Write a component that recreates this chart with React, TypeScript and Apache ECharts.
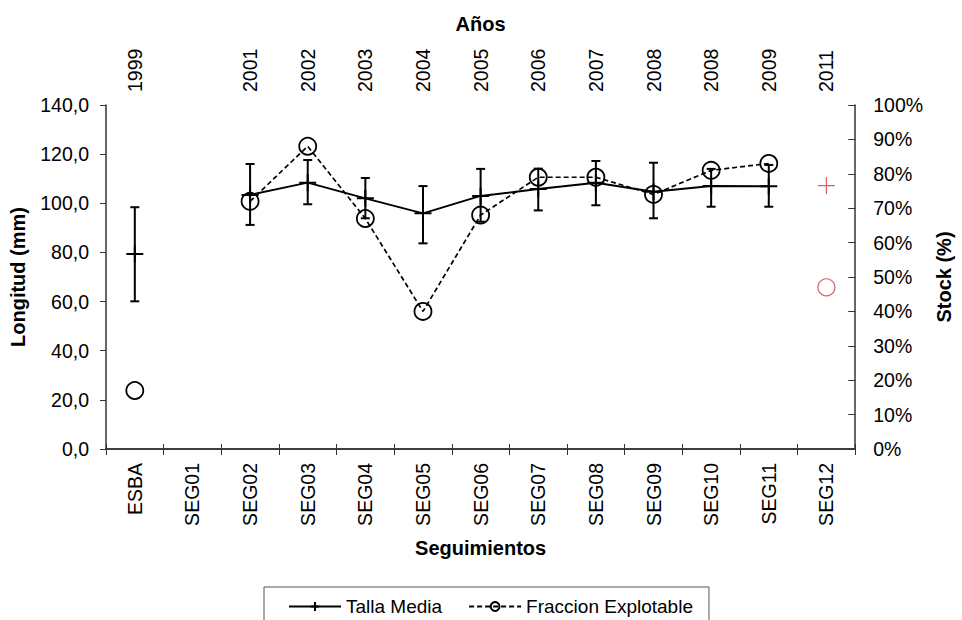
import React, { useEffect, useRef } from "react";
import * as echarts from "echarts";

const categories = ["ESBA", "SEG01", "SEG02", "SEG03", "SEG04", "SEG05", "SEG06", "SEG07", "SEG08", "SEG09", "SEG10", "SEG11", "SEG12"];
const years = ["1999", "", "2001", "2002", "2003", "2004", "2005", "2006", "2007", "2008", "2008", "2009", "2011"];
const tallaMedia = [79.4, null, 103.4, 108.4, 102.0, 95.9, 103.0, 105.8, 108.4, 104.7, 107.0, 106.9, null];
const tallaLow = [60.1, null, 91.2, 99.6, 93.9, 83.7, 92.5, 97.1, 99.2, 93.9, 98.6, 98.6, null];
const tallaHigh = [98.4, null, 116.0, 117.6, 110.3, 107.0, 114.0, 114.1, 117.2, 116.5, 114.0, 115.6, null];
const fraccion = [17, null, 72, 88, 67, 40, 68, 79, 79, 74, 81, 83, null];
const seg12Talla = [null, null, null, null, null, null, null, null, null, null, null, null, 107.2];
const seg12Fraccion = [null, null, null, null, null, null, null, null, null, null, null, null, 47];

const FONT = "'Liberation Sans', Arial, sans-serif";
const PLUS = "path://M8,0 L8,16 M0,8 L16,8";
const RED = "#d23a3a";
const AXIS = "#333";

export default function App() {
  const ref = useRef<HTMLDivElement>(null);
  useEffect(() => {
    if (!ref.current) return;
    const chart = echarts.init(ref.current, null, { renderer: "svg" });
    const errData: any[] = [];
    categories.forEach((_, i) => {
      if (tallaLow[i] != null && tallaHigh[i] != null) errData.push([i, tallaLow[i], tallaHigh[i]]);
    });
    const labelStyle = { fontFamily: FONT, fontSize: 19.5, color: "#000" };
    const nameStyle = { fontFamily: FONT, fontSize: 20, fontWeight: "bold" as const, color: "#000" };
    chart.setOption({
      animation: false,
      textStyle: { fontFamily: FONT },
      grid: { left: 106, right: 95, top: 105, bottom: 171 },
      legend: {
        data: ["Talla Media", "Fraccion Explotable"],
        left: 264,
        top: 587,
        itemWidth: 52,
        itemHeight: 11,
        itemGap: 26,
        padding: [10, 16, 20, 24],
        borderColor: "#555",
        borderWidth: 1,
        textStyle: { fontFamily: FONT, fontSize: 19, color: "#000" },
      },
      xAxis: [
        {
          type: "category",
          data: categories,
          position: "bottom",
          boundaryGap: true,
          axisLine: { lineStyle: { color: AXIS, width: 1.5 } },
          axisTick: { show: true, length: 6, lineStyle: { color: AXIS } },
          axisLabel: { ...labelStyle, rotate: 90, interval: 0, margin: 14 },
          name: "Seguimientos",
          nameLocation: "middle",
          nameGap: 89,
          nameTextStyle: nameStyle,
          splitLine: { show: false },
        },
        {
          type: "category",
          data: years,
          position: "top",
          boundaryGap: true,
          axisLine: { lineStyle: { color: AXIS, width: 1.5 } },
          axisTick: { show: true, length: 5, lineStyle: { color: AXIS } },
          axisLabel: { ...labelStyle, rotate: 90, interval: 0, margin: 13 },
          name: "Años",
          nameLocation: "middle",
          nameGap: 71,
          nameTextStyle: nameStyle,
          splitLine: { show: false },
        },
      ],
      yAxis: [
        {
          type: "value",
          min: 0,
          max: 140,
          interval: 20,
          position: "left",
          axisLine: { show: true, lineStyle: { color: AXIS, width: 1.5 } },
          axisTick: { show: true, length: 6, lineStyle: { color: AXIS } },
          axisLabel: { ...labelStyle, margin: 17, formatter: (v: number) => v.toFixed(1).replace(".", ",") },
          splitLine: { show: false },
          name: "Longitud (mm)",
          nameLocation: "middle",
          nameGap: 78,
          nameTextStyle: nameStyle,
        },
        {
          type: "value",
          min: 0,
          max: 100,
          interval: 10,
          position: "right",
          axisLine: { show: true, lineStyle: { color: AXIS, width: 1.5 } },
          axisTick: { show: true, inside: true, length: 7, lineStyle: { color: AXIS } },
          axisLabel: { ...labelStyle, margin: 18, formatter: "{value}%" },
          splitLine: { show: false },
          name: "Stock (%)",
          nameLocation: "middle",
          nameRotate: 90,
          nameGap: 76,
          nameTextStyle: nameStyle,
        },
      ],
      series: [
        {
          name: "Talla Media error",
          type: "custom",
          xAxisIndex: 0,
          yAxisIndex: 0,
          data: errData,
          encode: { x: 0, y: [1, 2] },
          z: 2,
          renderItem: (params: any, api: any) => {
            const i = api.value(0);
            const lo = api.coord([i, api.value(1)]);
            const hi = api.coord([i, api.value(2)]);
            const hw = 4.5;
            const st = { stroke: "#000", lineWidth: 2 };
            return {
              type: "group",
              children: [
                { type: "line", shape: { x1: lo[0], y1: lo[1], x2: hi[0], y2: hi[1] }, style: st },
                { type: "line", shape: { x1: lo[0] - hw, y1: lo[1], x2: lo[0] + hw, y2: lo[1] }, style: st },
                { type: "line", shape: { x1: hi[0] - hw, y1: hi[1], x2: hi[0] + hw, y2: hi[1] }, style: st },
              ],
            };
          },
        },
        {
          name: "Talla Media",
          type: "line",
          xAxisIndex: 0,
          yAxisIndex: 0,
          data: tallaMedia,
          connectNulls: false,
          symbol: PLUS,
          symbolSize: 17,
          showAllSymbol: true,
          lineStyle: { color: "#000", width: 2 },
          itemStyle: { color: "#000", borderColor: "#000", borderWidth: 2 },
          z: 3,
        },
        {
          name: "Fraccion Explotable",
          type: "line",
          xAxisIndex: 0,
          yAxisIndex: 1,
          data: fraccion,
          connectNulls: false,
          symbol: "circle",
          symbolSize: 17,
          showAllSymbol: true,
          lineStyle: { color: "#000", width: 1.7, type: [5, 3] },
          itemStyle: { color: "transparent", borderColor: "#000", borderWidth: 1.8 },
          z: 4,
        },
        {
          name: "SEG12 Talla",
          type: "scatter",
          xAxisIndex: 0,
          yAxisIndex: 0,
          data: seg12Talla,
          symbol: PLUS,
          symbolSize: 17,
          itemStyle: { color: RED, borderColor: RED, borderWidth: 1.2 },
          z: 4,
        },
        {
          name: "SEG12 Fraccion",
          type: "scatter",
          xAxisIndex: 0,
          yAxisIndex: 1,
          data: seg12Fraccion,
          symbol: "circle",
          symbolSize: 17,
          itemStyle: { color: "transparent", borderColor: RED, borderWidth: 1.2 },
          z: 4,
        },
      ],
    });
    return () => chart.dispose();
  }, []);
  return <div ref={ref} style={{ width: 962, height: 620, position: "absolute", left: 0, top: 0 }} />;
}
